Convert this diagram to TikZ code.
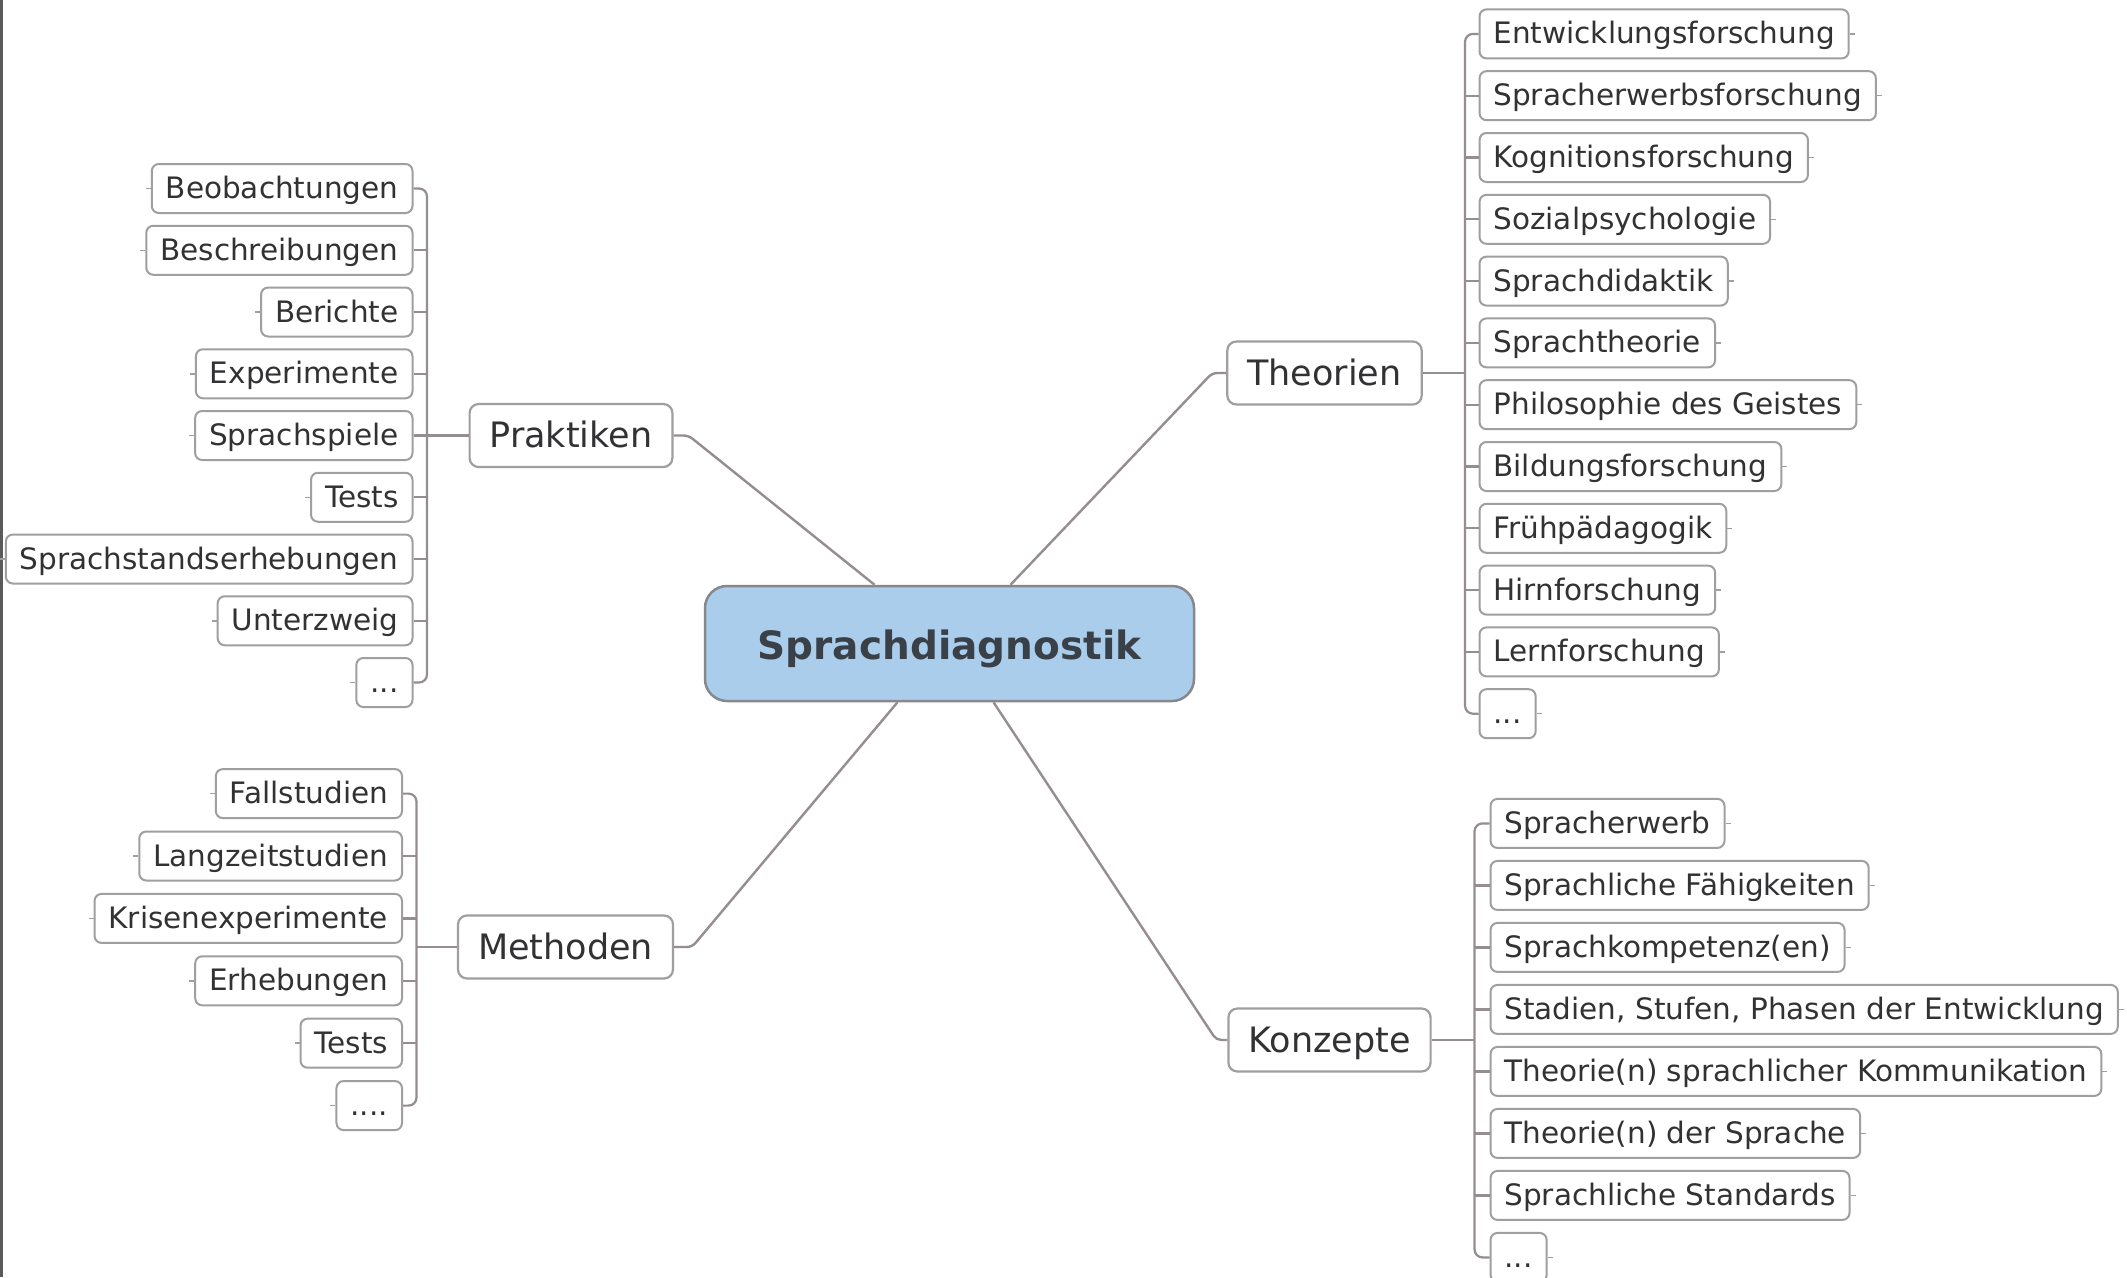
\documentclass[tikz,border=0pt]{standalone}
\usepackage{fontspec}
\setmainfont{DejaVu Sans}
\usetikzlibrary{calc}
\definecolor{rootblue}{RGB}{169,205,235}
\definecolor{rootline}{RGB}{135,135,140}
\definecolor{txt}{RGB}{50,50,52}
\definecolor{roottxt}{RGB}{58,64,72}
\definecolor{boxline}{RGB}{160,158,158}
\definecolor{linkgray}{RGB}{150,142,142}
\definecolor{edgegray}{RGB}{90,90,90}
\tikzset{
  leaf/.style={draw=boxline, line width=2pt, rounded corners=7pt, fill=white,
    inner xsep=14pt, inner ysep=0pt, minimum height=49pt, text height=25pt, text depth=5pt,
    font=\fontsize{29.5}{34}\selectfont, text=txt},
  lleaf/.style={leaf, anchor=east},
  rleaf/.style={leaf, anchor=west},
  mainnode/.style={draw=boxline, line width=2.2pt, rounded corners=9pt, fill=white,
    inner xsep=20pt, inner ysep=0pt, minimum height=63pt, text height=30pt, text depth=6pt,
    font=\fontsize{35}{40}\selectfont, text=txt},
  rootnode/.style={draw=rootline, line width=2.5pt, rounded corners=22pt, fill=rootblue,
    minimum width=489pt, minimum height=115pt, inner sep=0pt, text height=34pt, text depth=2pt,
    font=\fontsize{39}{44}\selectfont\bfseries, text=roottxt},
  link/.style={draw=linkgray, line width=2.4pt},
  spine/.style={draw=linkgray, line width=2.2pt, rounded corners=8pt},
  stub/.style={draw=boxline, line width=1.5pt},
}
\begin{document}
\begin{tikzpicture}[x=1pt,y=-1pt]
\useasboundingbox[fill=white] (0,0) rectangle (2127,1277);
\draw[edgegray, line width=3pt] (1.5,0) -- (1.5,1277);

% root
\node[rootnode] (root) at (949.5,643.5) {Sprachdiagnostik};

% main nodes
\node[mainnode] (prak) at (571,435.5) {Praktiken};
\node[mainnode] (theo) at (1324.5,373) {Theorien};
\node[mainnode] (meth) at (565.5,947) {Methoden};
\node[mainnode] (konz) at (1329.5,1040) {Konzepte};

% spine points
\coordinate (ps) at (427,435.5);
\coordinate (ms) at (416.5,947);
\coordinate (ts) at (1465,373);
\coordinate (ks) at (1474.5,1040);

% Praktiken children
\node[lleaf] (p1) at (413.5,188.5) {Beobachtungen};
\node[lleaf] (p2) at (413.5,250.25) {Beschreibungen};
\node[lleaf] (p3) at (413.5,312) {Berichte};
\node[lleaf] (p4) at (413.5,373.75) {Experimente};
\node[lleaf] (p5) at (413.5,435.5) {Sprachspiele};
\node[lleaf] (p6) at (413.5,497.25) {Tests};
\node[lleaf] (p7) at (413.5,559) {Sprachstandserhebungen};
\node[lleaf] (p8) at (413.5,620.75) {Unterzweig};
\node[lleaf] (p9) at (413.5,682.5) {...};

% Methoden children
\node[lleaf] (m1) at (403,793.6) {Fallstudien};
\node[lleaf] (m2) at (403,856) {Langzeitstudien};
\node[lleaf] (m3) at (403,918.4) {Krisenexperimente};
\node[lleaf] (m4) at (403,980.8) {Erhebungen};
\node[lleaf] (m5) at (403,1043.2) {Tests};
\node[lleaf] (m6) at (403,1105.6) {....};

% Theorien children
\node[rleaf] (t1) at (1478.5,33.9) {Entwicklungsforschung};
\node[rleaf] (t2) at (1478.5,95.7) {Spracherwerbsforschung};
\node[rleaf] (t3) at (1478.5,157.5) {Kognitionsforschung};
\node[rleaf] (t4) at (1478.5,219.3) {Sozialpsychologie};
\node[rleaf] (t5) at (1478.5,281.1) {Sprachdidaktik};
\node[rleaf] (t6) at (1478.5,342.9) {Sprachtheorie};
\node[rleaf] (t7) at (1478.5,404.7) {Philosophie des Geistes};
\node[rleaf] (t8) at (1478.5,466.5) {Bildungsforschung};
\node[rleaf] (t9) at (1478.5,528.3) {Frühpädagogik};
\node[rleaf] (t10) at (1478.5,590.1) {Hirnforschung};
\node[rleaf] (t11) at (1478.5,651.9) {Lernforschung};
\node[rleaf] (t12) at (1478.5,713.7) {...};

% Konzepte children
\node[rleaf] (k1) at (1489.5,823.4) {Spracherwerb};
\node[rleaf] (k2) at (1489.5,885.4) {Sprachliche Fähigkeiten};
\node[rleaf] (k3) at (1489.5,947.4) {Sprachkompetenz(en)};
\node[rleaf] (k4) at (1489.5,1009.4) {Stadien, Stufen, Phasen der Entwicklung};
\node[rleaf] (k5) at (1489.5,1071.4) {Theorie(n) sprachlicher Kommunikation};
\node[rleaf] (k6) at (1489.5,1133.4) {Theorie(n) der Sprache};
\node[rleaf] (k7) at (1489.5,1195.4) {Sprachliche Standards};
\node[rleaf] (k8) at (1489.5,1257.4) {...};

% root to main nodes
\draw[link, rounded corners=5pt] ($(root.north)+(-75,0)$) -- ($(prak.east)+(15,0)$) -- (prak.east);
\draw[link, rounded corners=5pt] ($(root.north)+(61,0)$) -- ($(theo.west)+(-14,0)$) -- (theo.west);
\draw[link, rounded corners=5pt] ($(root.south)+(-52,0)$) -- ($(meth.east)+(18,0)$) -- (meth.east);
\draw[link, rounded corners=5pt] ($(root.south)+(44,0)$) -- ($(konz.west)+(-11,0)$) -- (konz.west);

% main nodes to spines
\draw[link] (prak.west) -- (ps);
\draw[link] (meth.west) -- (ms);
\draw[link] (theo.east) -- (ts);
\draw[link] (konz.east) -- (ks);

% spines
\draw[spine] (p1.east) -| (ps) |- (p9.east);
\foreach \n in {p2,p3,p4,p5,p6,p7,p8} \draw[spine] (\n.east) -- (\n.east -| ps);
\draw[spine] (m1.east) -| (ms) |- (m6.east);
\foreach \n in {m2,m3,m4,m5} \draw[spine] (\n.east) -- (\n.east -| ms);
\draw[spine] (t1.west) -| (ts) |- (t12.west);
\foreach \n in {t2,t3,t4,t5,t6,t7,t8,t9,t10,t11} \draw[spine] (\n.west) -- (\n.west -| ts);
\draw[spine] (k1.west) -| (ks) |- (k8.west);
\foreach \n in {k2,k3,k4,k5,k6,k7} \draw[spine] (\n.west) -- (\n.west -| ks);

% small stubs on the outer sides
\foreach \n in {p1,p2,p3,p4,p5,p6,p7,p8,p9,m1,m2,m3,m4,m5,m6} \draw[stub] (\n.west) -- ++(-5,0);
\foreach \n in {t1,t2,t3,t4,t5,t6,t7,t8,t9,t10,t11,t12,k1,k2,k3,k4,k5,k6,k7,k8} \draw[stub] (\n.east) -- ++(5,0);
\end{tikzpicture}
\end{document}
